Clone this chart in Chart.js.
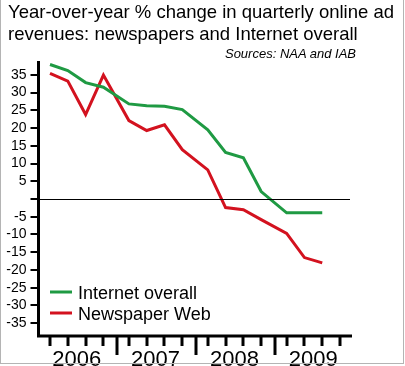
<!DOCTYPE html>
<html>
<head>
<meta charset="utf-8">
<script src="https://cdn.jsdelivr.net/npm/chart.js@4.4.0/dist/chart.umd.min.js"></script>
<style>
  body { margin: 0; background: #fff; }
  #wrap { position: relative; width: 405px; height: 366px; font-family: "Liberation Sans", Arial, sans-serif; }
  #title { position: absolute; left: 8px; top: 1px; font-size: 18.5px; line-height: 21.7px; color: #000; white-space: nowrap; }
  #sources { position: absolute; right: 49px; top: 46px; font-size: 13px; font-style: italic; color: #000; }
  #frame { position: absolute; left: 0; top: -2px; width: 402px; height: 364px; border: 1px solid #b4b4b4; pointer-events: none; }
  canvas { position: absolute; left: 0; top: 0; }
</style>
</head>
<body>
<div id="wrap">
  <canvas id="chart" width="405" height="366"></canvas>
  <div id="title">Year-over-year % change in quarterly online ad<br>revenues: newspapers and Internet overall</div>
  <div id="sources">Sources: NAA and IAB</div>
  <div id="frame"></div>
</div>
<script>
// quarters 2006 Q1 .. 2009 Q3
let years = [2006, 2007, 2008, 2009]
let quarters = ['2006 Q1','2006 Q2','2006 Q3','2006 Q4',
                '2007 Q1','2007 Q2','2007 Q3','2007 Q4',
                '2008 Q1','2008 Q2','2008 Q3','2008 Q4',
                '2009 Q1','2009 Q2','2009 Q3']
let internetOverall = [37.9, 36.2, 32.8, 31.5, 26.8, 26.3, 26.1, 25.2, 19.5, 13.1, 11.6, 2.1, -3.9, -3.9, -3.9]
let newspaperWeb    = [35.4, 33.2, 23.8, 34.9, 22.1, 19.3, 20.9, 13.9, 8.2, -2.4, -3.0, -5.8, -9.7, -16.5, -18.0]
let yTicks = [-35, -30, -25, -20, -15, -10, -5, 0, 5, 10, 15, 20, 25, 30, 35]

// where a quarter sits inside its year on the x axis (year boundaries are the long ticks)
let qPos = (i) => years[Math.floor(i / 4)] + 0.146 + (i % 4) * 0.2257

let pts = (vals) => vals.map((v, i) => ({ x: qPos(i), y: v }))

let green = '#1f9a43'
let red = '#d3121f'

let axesPlugin = {
    id: 'axesPlugin',
    afterDraw(chart) {
        let c = chart.ctx
        let xs = chart.scales.x
        let ys = chart.scales.y
        let area = chart.chartArea
        let y0 = ys.getPixelForValue(0)
        c.save()
        // zero line
        c.strokeStyle = '#000'
        c.lineWidth = 1
        c.beginPath()
        c.moveTo(area.left, Math.round(y0) + 0.5)
        c.lineTo(area.right - 4, Math.round(y0) + 0.5)
        c.stroke()
        // x axis line
        let yb = area.bottom
        c.lineWidth = 3
        c.beginPath()
        c.moveTo(area.left - 1.5, yb)
        c.lineTo(area.right - 2, yb)
        c.stroke()
        // quarter ticks and year ticks
        for (let k = 0; k < years.length * 4; k++) {
            let px = Math.round(xs.getPixelForValue(qPos(k)))
            c.beginPath()
            c.moveTo(px, yb)
            c.lineTo(px, yb + 10)
            c.stroke()
        }
        for (let k = 1; k < years.length; k++) {
            let px = Math.round(xs.getPixelForValue(years[k]))
            c.beginPath()
            c.moveTo(px, yb)
            c.lineTo(px, yb + 19)
            c.stroke()
        }
        // year labels
        c.fillStyle = '#000'
        c.font = '22px "Liberation Sans", Arial, sans-serif'
        c.textAlign = 'center'
        c.textBaseline = 'alphabetic'
        years.forEach((yr, k) => {
            let mid = (xs.getPixelForValue(qPos(k * 4)) + xs.getPixelForValue(qPos(k * 4 + 3))) / 2
            c.fillText(String(yr), mid, yb + 30)
        })
        // legend
        c.font = '18px "Liberation Sans", Arial, sans-serif'
        c.textAlign = 'left'
        chart.data.datasets.forEach((ds, k) => {
            let ly = 292 + k * 21
            c.strokeStyle = ds.borderColor
            c.lineWidth = 3
            c.beginPath()
            c.moveTo(50, ly)
            c.lineTo(72, ly)
            c.stroke()
            c.fillText(ds.label, 78, ly + 7)
        })
        c.restore()
    }
}

var ctx = document.getElementById('chart').getContext('2d')
var myChart = new Chart(ctx, {
    type: 'line',
    data: {
        datasets: [{
            label: 'Internet overall',
            data: pts(internetOverall),
            borderColor: green,
            borderWidth: 3,
            pointRadius: 0,
            tension: 0
        }, {
            label: 'Newspaper Web',
            data: pts(newspaperWeb),
            borderColor: red,
            borderWidth: 3,
            pointRadius: 0,
            tension: 0
        }]
    },
    options: {
        responsive: false,
        animation: false,
        layout: { padding: { left: 0, right: 51, top: 62, bottom: 30 } },
        plugins: { legend: { display: false }, tooltip: { enabled: false } },
        scales: {
            x: {
                type: 'linear',
                display: false,
                min: 2006,
                max: 2010
            },
            y: {
                min: -38.6,
                max: 38.6,
                afterFit: (s) => { s.width = 38.5 },
                afterBuildTicks: (s) => { s.ticks = yTicks.map(v => ({ value: v })) },
                border: { color: '#000', width: 3 },
                grid: { drawOnChartArea: false, color: '#000', lineWidth: 2, tickLength: 8 },
                ticks: {
                    color: '#000',
                    padding: 4,
                    autoSkip: false,
                    font: { family: '"Liberation Sans", Arial, sans-serif', size: 14 },
                    callback: (v) => v === 0 ? '' : String(v)
                }
            }
        }
    },
    plugins: [axesPlugin]
})
</script>
</body>
</html>
